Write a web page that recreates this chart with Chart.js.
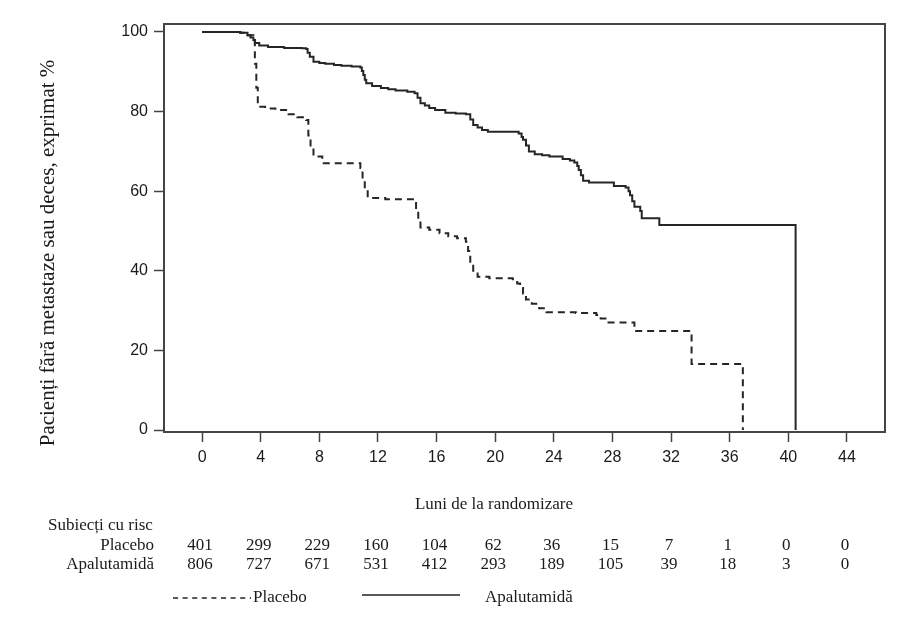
<!DOCTYPE html>
<html>
<head>
<meta charset="utf-8">
<script src="https://cdn.jsdelivr.net/npm/chart.js@4.4.0/dist/chart.umd.min.js"></script>
<style>
  body { margin: 0; background: #fff; }
  canvas { display: block; }
</style>
</head>
<body>
<canvas id="kmChart" width="920" height="627"></canvas>
<script>
// Kaplan-Meier estimates (months, % free of metastasis or death)
const placeboMonths = [0, 2.6, 3.1, 3.5, 3.6, 3.7, 3.8, 4.3, 5.0, 5.9, 6.5, 7.1, 7.25, 7.4, 7.6, 8.2, 10.1, 10.8, 10.95, 11.1, 11.3, 12.5, 14.5, 14.6, 14.75, 14.9, 15.5, 16.2, 16.8, 17.4, 18.0, 18.15, 18.3, 18.5, 18.8, 19.6, 21.2, 21.5, 21.7, 21.9, 22.1, 22.5, 23.0, 23.5, 25.5, 26.9, 27.2, 27.6, 29.4, 29.5, 33.4, 36.9];
const placeboSurv   = [100, 99.8, 99.2, 98.0, 92, 86, 81.2, 80.8, 80.4, 79.3, 78.6, 77.9, 74, 71, 68.7, 67.0, 67.0, 65.8, 63, 60.5, 58.3, 58.0, 57.4, 55, 52.5, 50.9, 50.3, 49.4, 48.7, 48.2, 47.3, 45, 42, 40, 38.5, 38.1, 37.9, 36.8, 35.7, 34.3, 32.8, 31.7, 30.6, 29.6, 29.4, 28.9, 28.0, 27.0, 27.0, 24.9, 16.6, 0];

const apaluMonths = [0, 2.0, 2.6, 3.1, 3.3, 3.5, 3.6, 3.9, 4.5, 5.6, 6.8, 7.1, 7.2, 7.35, 7.6, 8.0, 8.4, 9.0, 9.5, 10.2, 10.8, 10.9, 11.0, 11.1, 11.2, 11.6, 12.2, 12.7, 13.2, 14.0, 14.5, 14.7, 14.9, 15.2, 15.5, 15.9, 16.6, 17.3, 18.0, 18.3, 18.5, 18.8, 19.1, 19.5, 21.6, 21.8, 21.9, 22.1, 22.3, 22.7, 23.2, 23.7, 24.6, 25.1, 25.4, 25.6, 25.7, 25.85, 26.0, 26.4, 27.7, 28.1, 28.9, 29.1, 29.2, 29.35, 29.5, 29.9, 30.0, 31.1, 31.2, 40.5];
const apaluSurv   = [100, 100, 99.8, 99.2, 98.6, 98.0, 97.2, 96.6, 96.2, 96.0, 95.9, 95.7, 94.8, 93.8, 92.5, 92.2, 92.0, 91.7, 91.5, 91.3, 91.1, 90.2, 89.2, 88.0, 87.1, 86.4, 85.9, 85.6, 85.3, 85.0, 84.6, 83.5, 82.1, 81.5, 80.9, 80.4, 79.7, 79.5, 79.3, 78.0, 76.6, 76.0, 75.4, 74.9, 74.5, 73.6, 72.9, 71.5, 70.0, 69.3, 69.0, 68.7, 68.1, 67.7, 67.2, 66.3, 65.3, 64.0, 62.6, 62.2, 62.2, 61.3, 60.9, 60.0, 59.0, 57.5, 56.1, 55.0, 53.2, 53.2, 51.5, 0];

// Axis ticks and number-at-risk table
const xTicks = [0, 4, 8, 12, 16, 20, 24, 28, 32, 36, 40, 44];
const yTicks = [0, 20, 40, 60, 80, 100];
const riskPlacebo = [401, 299, 229, 160, 104, 62, 36, 15, 7, 1, 0, 0];
const riskApalu   = [806, 727, 671, 531, 412, 293, 189, 105, 39, 18, 3, 0];

const serif = '"Liberation Serif", "Times New Roman", serif';
const sans = '"Liberation Sans", Arial, sans-serif';
const ink = '#1a1a1a';

const toPoints = (xs, ys) => xs.map((x, i) => ({ x: x, y: ys[i] }));

// frame around the plot area + risk table, legend and titles
const extras = {
  id: 'extras',
  afterDraw(chart) {
    const ctx = chart.ctx;
    const a = chart.chartArea;
    const xs = chart.scales.x;
    ctx.save();
    ctx.strokeStyle = '#444';
    ctx.lineWidth = 2;
    ctx.strokeRect(a.left, a.top, a.right - a.left, a.bottom - a.top);

    ctx.fillStyle = ink;
    ctx.textBaseline = 'middle';

    // y title
    ctx.save();
    ctx.translate(48, 253);
    ctx.rotate(-Math.PI / 2);
    ctx.font = '21px ' + serif;
    ctx.textAlign = 'center';
    ctx.fillText('Pacienți fără metastaze sau deces, exprimat %', 0, 0);
    ctx.restore();

    ctx.font = '17px ' + serif;
    ctx.textAlign = 'center';
    ctx.fillText('Luni de la randomizare', 494, 505);

    ctx.textAlign = 'left';
    ctx.fillText('Subiecți cu risc', 48, 526);
    ctx.textAlign = 'right';
    ctx.fillText('Placebo', 154, 546);
    ctx.fillText('Apalutamidă', 154, 565);

    ctx.textAlign = 'center';
    xTicks.forEach((t, i) => {
      const px = xs.getPixelForValue(t);
      ctx.fillText(String(riskPlacebo[i]), px - 2, 546);
      ctx.fillText(String(riskApalu[i]), px - 2, 565);
    });

    // legend
    ctx.strokeStyle = '#222';
    ctx.lineWidth = 1.4;
    ctx.setLineDash([5, 4.6]);
    ctx.beginPath();
    ctx.moveTo(173, 598);
    ctx.lineTo(251, 598);
    ctx.stroke();
    ctx.setLineDash([]);
    ctx.beginPath();
    ctx.moveTo(362, 595);
    ctx.lineTo(460, 595);
    ctx.stroke();
    ctx.textAlign = 'left';
    ctx.fillText('Placebo', 253, 598);
    ctx.fillText('Apalutamidă', 485, 598);
    ctx.restore();
  }
};

new Chart(document.getElementById('kmChart').getContext('2d'), {
  type: 'line',
  data: {
    datasets: [
      {
        label: 'Placebo',
        data: toPoints(placeboMonths, placeboSurv),
        stepped: 'before',
        borderColor: '#262626',
        borderWidth: 2,
        borderDash: [7, 5],
        pointRadius: 0,
        fill: false
      },
      {
        label: 'Apalutamidă',
        data: toPoints(apaluMonths, apaluSurv),
        stepped: 'before',
        borderColor: '#262626',
        borderWidth: 2,
        pointRadius: 0,
        fill: false
      }
    ]
  },
  options: {
    responsive: false,
    animation: false,
    layout: { padding: { left: 0, top: 24, right: 35, bottom: 0 } },
    plugins: {
      legend: { display: false },
      tooltip: { enabled: false }
    },
    scales: {
      x: {
        type: 'linear',
        min: -2.6,
        max: 46.6,
        afterBuildTicks: (s) => { s.ticks = xTicks.map(v => ({ value: v })); },
        afterFit: (s) => { s.height = 195; },
        border: { display: false },
        grid: { drawOnChartArea: false, drawTicks: true, tickLength: 10, tickColor: '#444', tickWidth: 1.5 },
        ticks: { color: ink, font: { family: sans, size: 16 }, padding: 6, maxRotation: 0, autoSkip: false }
      },
      y: {
        type: 'linear',
        min: -0.5,
        max: 102,
        afterBuildTicks: (s) => { s.ticks = yTicks.map(v => ({ value: v })); },
        afterFit: (s) => { s.width = 164; },
        border: { display: false },
        grid: { drawOnChartArea: false, drawTicks: true, tickLength: 10, tickColor: '#444', tickWidth: 1.5 },
        ticks: { color: ink, font: { family: sans, size: 16 }, padding: 6 }
      }
    }
  },
  plugins: [extras]
});
</script>
</body>
</html>
